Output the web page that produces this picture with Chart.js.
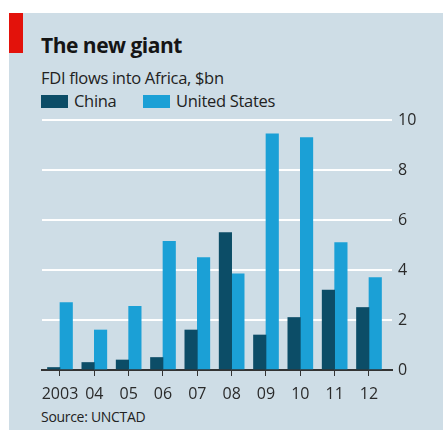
<!DOCTYPE html>
<html>
<head>
<meta charset="utf-8">
<script src="https://cdn.jsdelivr.net/npm/chart.js@4/dist/chart.umd.min.js"></script>
<style>
  html, body { margin: 0; padding: 0; background: #fff; }
  body { width: 443px; height: 430px; position: relative; overflow: hidden; font-family: "Open Sans", sans-serif; }
  .panel { position: absolute; left: 9px; top: 13px; width: 434px; height: 417px; background: #cedde6; }
  .red { position: absolute; left: 9px; top: 13px; width: 14px; height: 40px; background: #e3120b; }
  .titulo { position: absolute; left: 41px; top: 31px; font-size: 21px; font-weight: bold; color: #151515; letter-spacing: -0.5px; }
  .sub { position: absolute; left: 41px; top: 66px; font-size: 16.5px; color: #222; letter-spacing: -0.3px; }
  .leg { position: absolute; top: 89px; font-size: 16.5px; color: #222; letter-spacing: -0.3px; }
  .leg span.sw { display: inline-block; width: 27px; height: 13px; vertical-align: -1px; margin-right: 6px; }
  .fonte { position: absolute; left: 41px; top: 407px; font-size: 14px; color: #222; letter-spacing: -0.3px; }
  canvas { position: absolute; left: 0; top: 0; }
</style>
</head>
<body>
<div class="panel"></div>
<div class="red"></div>
<div class="titulo">The new giant</div>
<div class="sub">FDI flows into Africa, $bn</div>
<div class="leg" style="left:41px"><span class="sw" style="background:#0c4d67"></span>China</div>
<div class="leg" style="left:143px"><span class="sw" style="background:#1ba0d6"></span>United States</div>
<div class="fonte">Source: UNCTAD</div>
<canvas id="grafico" width="443" height="430"></canvas>
<script>
// Dados
const anos = ['2003', '04', '05', '06', '07', '08', '09', '10', '11', '12'];
const china = [0.1, 0.3, 0.4, 0.5, 1.6, 5.5, 1.4, 2.1, 3.2, 2.5];
const eua = [2.7, 1.6, 2.55, 5.15, 4.5, 3.85, 9.45, 9.3, 5.1, 3.7];
const ticksY = [0, 2, 4, 6, 8, 10];

const pontos = arr => arr.map((v, i) => ({ x: i, y: v }));

const ctx = document.getElementById('grafico').getContext('2d');
const grafico = new Chart(ctx, {
  type: 'bar',
  data: {
    datasets: [
      { label: 'China', data: pontos(china), backgroundColor: '#0c4d67', barThickness: 12.5 },
      { label: 'United States', data: pontos(eua), backgroundColor: '#1ba0d6', barThickness: 12.5 }
    ]
  },
  options: {
    responsive: false,
    animation: false,
    layout: { padding: { left: 42, top: 120, right: 11, bottom: 0 } },
    plugins: { legend: { display: false }, tooltip: { enabled: false } },
    scales: {
      x: {
        type: 'linear',
        offset: false,
        min: -0.524,
        max: 9.67,
        afterBuildTicks: s => { s.ticks = anos.map((_, i) => ({ value: i })); },
        afterFit: s => { s.height = 60; s.paddingLeft = 0; s.paddingRight = 0; },
        grid: { display: true, offset: false, drawOnChartArea: false, drawTicks: true, tickLength: 6, color: '#333', lineWidth: 1 },
        border: { display: true, color: '#333', width: 2 },
        ticks: {
          callback: v => anos[v],
          color: '#2a2a2a',
          font: { family: 'Open Sans', size: 16 },
          padding: 9,
          maxRotation: 0,
          autoSkip: false
        }
      },
      y: {
        position: 'right',
        min: 0,
        max: 10,
        afterBuildTicks: s => { s.ticks = ticksY.map(v => ({ value: v })); },
        afterFit: s => { s.width = 40; s.paddingTop = 0; s.paddingBottom = 0; },
        grid: {
          drawTicks: false,
          lineWidth: 2,
          color: c => c.tick && c.tick.value === 0 ? 'rgba(0,0,0,0)' : '#ffffff'
        },
        border: { display: false },
        ticks: {
          color: '#2a2a2a',
          font: { family: 'Open Sans', size: 16 },
          padding: 6,
          crossAlign: 'near'
        }
      }
    }
  }
});
</script>
</body>
</html>
